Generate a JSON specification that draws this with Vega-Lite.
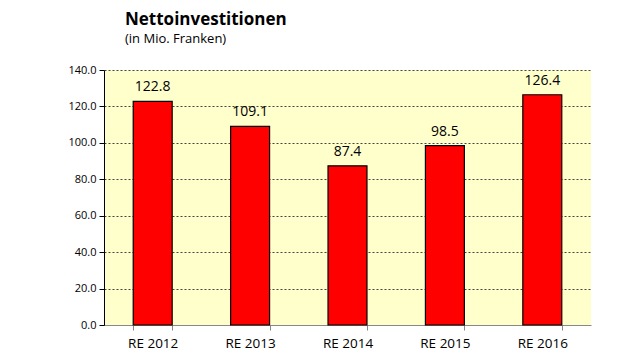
{
  "$schema": "https://vega.github.io/schema/vega-lite/v6.json",
  "autosize": "none",
  "width": 487,
  "height": 255,
  "padding": {"left": 104, "top": 70, "right": 49, "bottom": 35},
  "background": "white",
  "title": {
    "text": "Nettoinvestitionen",
    "subtitle": "(in Mio. Franken)",
    "anchor": "start",
    "frame": "group",
    "dx": 21,
    "offset": 17,
    "font": "Open Sans",
    "fontSize": 17,
    "fontWeight": "bold",
    "color": "black",
    "subtitleFont": "Open Sans",
    "subtitleFontSize": 13,
    "subtitleColor": "black",
    "subtitlePadding": 4
  },
  "config": {
    "view": {"fill": "#FFFFCC", "stroke": null},
    "font": "Open Sans"
  },
  "data": {
    "values": [
      {"year": "RE 2012", "value": 122.8},
      {"year": "RE 2013", "value": 109.1},
      {"year": "RE 2014", "value": 87.4},
      {"year": "RE 2015", "value": 98.5},
      {"year": "RE 2016", "value": 126.4}
    ]
  },
  "encoding": {
    "x": {
      "field": "year",
      "type": "nominal",
      "sort": null,
      "scale": {"paddingInner": 0.6, "paddingOuter": 0.3},
      "axis": {
        "title": null,
        "labelAngle": 0,
        "labelFontSize": 13.5,
        "labelColor": "black",
        "labelPadding": 6,
        "domainColor": "#888888",
        "tickColor": "#888888",
        "tickBand": "extent",
        "tickSize": 5,
        "grid": false
      }
    },
    "y": {
      "field": "value",
      "type": "quantitative",
      "scale": {"domain": [0, 140], "nice": false},
      "axis": {
        "title": null,
        "values": [0, 20, 40, 60, 80, 100, 120, 140],
        "format": ".1f",
        "labelFontSize": 11,
        "labelColor": "black",
        "labelPadding": 3,
        "domainColor": "black",
        "tickColor": "black",
        "tickSize": 5,
        "grid": true,
        "gridColor": "#444444",
        "gridDash": [2, 2],
        "gridWidth": 1
      }
    }
  },
  "layer": [
    {
      "mark": {"type": "bar", "color": "#FF0000", "stroke": "black", "strokeWidth": 1.2}
    },
    {
      "mark": {"type": "text", "baseline": "bottom", "dy": -7, "fontSize": 14, "color": "black"},
      "encoding": {"text": {"field": "value", "type": "quantitative", "format": ".1f"}}
    }
  ]
}
